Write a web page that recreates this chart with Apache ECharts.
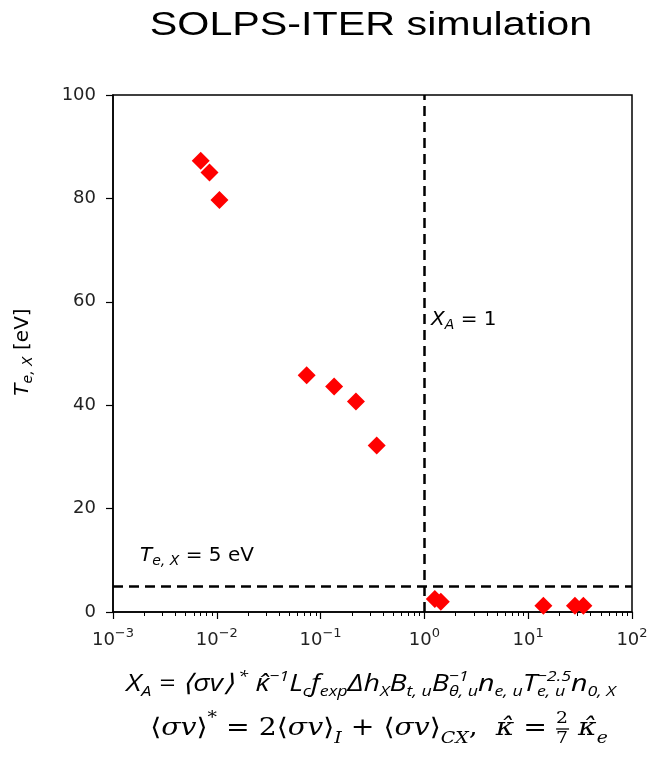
<!DOCTYPE html>
<html>
<head>
<meta charset="utf-8">
<script src="https://cdn.jsdelivr.net/npm/echarts@6/dist/echarts.min.js"></script>
<style>
  html, body { margin: 0; padding: 0; background: #fff; }
  #chart { width: 652px; height: 761px; }
</style>
</head>
<body>
<div id="chart"></div>
<script>
// X_A values and electron temperature at the X-point (eV)
const xA = [0.0070, 0.0085, 0.0106, 0.0734, 0.135, 0.219, 0.347, 1.26, 1.44, 14.0, 28.2, 34.0];
const teX = [87.3, 85.0, 79.7, 45.8, 43.6, 40.7, 32.2, 2.5, 2.0, 1.2, 1.2, 1.2];

// reference lines
const teLimit = 5;
const xaLimit = 1;

// axis ticks
const xDecades = [-3, -2, -1, 0, 1, 2];
const minorSteps = [2, 3, 4, 5, 6, 7, 8, 9];

const sans = 'DejaVu Sans';
const serif = 'DejaVu Serif';

let minorTicks = [];
xDecades.slice(0, -1).forEach(d => {
  minorSteps.forEach(k => minorTicks.push(d + Math.log10(k)));
});

const chart = echarts.init(document.getElementById('chart'));

const box = { left: 113, right: 20, top: 95, bottom: 149 };

const mathSans = {
  i: { fontFamily: sans, fontStyle: 'italic', fontSize: 20, lineHeight: 24, color: '#111', align: 'left' },
  n: { fontFamily: sans, fontSize: 20, lineHeight: 24, color: '#111', align: 'left' },
  sub: { fontFamily: sans, fontStyle: 'italic', fontSize: 14, lineHeight: 14, verticalAlign: 'bottom', color: '#111', align: 'left' }
};

const formula1 = {
  i: { fontFamily: 'Open Sans', fontStyle: 'italic', fontSize: 24, lineHeight: 30, color: '#222', align: 'left' },
  sub: { fontFamily: 'Open Sans', fontStyle: 'italic', fontSize: 15, lineHeight: 15, verticalAlign: 'bottom', color: '#222', align: 'left' },
  sub0: { fontFamily: 'Open Sans', fontStyle: 'italic', fontSize: 15, lineHeight: 15, verticalAlign: 'bottom', color: '#222', align: 'left', width: 0.01 },
  sup: { fontFamily: 'Open Sans', fontStyle: 'italic', fontSize: 15, lineHeight: 15, verticalAlign: 'top', color: '#222', align: 'left' },
  sup0: { fontFamily: 'Open Sans', fontStyle: 'italic', fontSize: 15, lineHeight: 15, verticalAlign: 'top', color: '#222', align: 'left', width: 0.01 }
};

const formula2 = {
  a: { fontFamily: serif, fontSize: 24, lineHeight: 36, color: '#000', align: 'left' },
  i: { fontFamily: serif, fontStyle: 'italic', fontSize: 24, lineHeight: 36, color: '#000', align: 'left' },
  sub: { fontFamily: serif, fontStyle: 'italic', fontSize: 16, lineHeight: 16, verticalAlign: 'bottom', color: '#000', align: 'left' },
  sup: { fontFamily: serif, fontSize: 16, lineHeight: 16, verticalAlign: 'top', color: '#000', align: 'left' },
  fn: { fontFamily: serif, fontSize: 16, lineHeight: 16, verticalAlign: 'top', color: '#000', align: 'left', width: 0.01 },
  fd: { fontFamily: serif, fontSize: 16, lineHeight: 16, verticalAlign: 'bottom', color: '#000', align: 'left', width: 0.01 },
  bar: { width: 11, height: 1.3, lineHeight: 1.3, fontSize: 1, backgroundColor: '#000', align: 'left' }
};

let option = {
  animation: false,
  backgroundColor: '#fff',
  grid: [
    Object.assign({ show: true, borderColor: '#000', borderWidth: 1.5 }, box),
    Object.assign({ show: false }, box)
  ],
  xAxis: [
    {
      type: 'log',
      gridIndex: 0,
      logBase: 10,
      min: 0.001,
      max: 100,
      axisLine: { lineStyle: { color: '#000', width: 1.5 } },
      axisTick: { length: 7, lineStyle: { color: '#000', width: 1.2 } },
      splitLine: { show: false },
      axisLabel: {
        margin: 15,
        formatter: function(v) {
          const e = Math.round(Math.log10(v));
          return '{b|10}{s|' + (e < 0 ? '\u2212' + (-e) : e) + '}';
        },
        rich: {
          b: { fontFamily: sans, fontSize: 18, lineHeight: 26, color: '#222' },
          s: { fontFamily: sans, fontSize: 13, lineHeight: 13, verticalAlign: 'top', color: '#222' }
        }
      }
    },
    {
      // minor log ticks, drawn on an overlaid grid
      type: 'value',
      gridIndex: 1,
      min: -3,
      max: 2,
      position: 'bottom',
      axisLine: { show: false },
      axisLabel: { show: false },
      splitLine: { show: false },
      axisTick: {
        show: true,
        length: 4,
        customValues: minorTicks,
        lineStyle: { color: '#000', width: 1 }
      }
    }
  ],
  yAxis: [
    {
      type: 'value',
      gridIndex: 0,
      min: 0,
      max: 100,
      interval: 20,
      axisLine: { show: true, onZero: false, lineStyle: { color: '#000', width: 1.5 } },
      axisTick: { show: true, length: 7, lineStyle: { color: '#000', width: 1.2 } },
      splitLine: { show: false },
      axisLabel: { fontFamily: sans, fontSize: 18, color: '#222', margin: 17 }
    },
    {
      type: 'value',
      gridIndex: 1,
      min: 0,
      max: 1,
      show: false
    }
  ],
  series: [
    {
      type: 'scatter',
      xAxisIndex: 0,
      yAxisIndex: 0,
      data: xA.map((x, i) => [x, teX[i]]),
      symbol: 'diamond',
      symbolSize: 18,
      itemStyle: { color: '#ff0000', opacity: 1 },
      markLine: {
        silent: true,
        symbol: ['none', 'none'],
        label: { show: false },
        lineStyle: { color: '#000', width: 2.5, type: [10, 6] },
        data: [{ yAxis: teLimit }, { xAxis: xaLimit }]
      }
    }
  ],
  graphic: [
    {
      type: 'text',
      x: 371,
      y: 26,
      scaleX: 1.25,
      style: {
        text: 'SOLPS-ITER simulation',
        font: '33px "Liberation Sans"',
        fill: '#000',
        align: 'center',
        verticalAlign: 'middle'
      }
    },
    {
      type: 'text',
      x: 23,
      y: 352,
      rotation: Math.PI / 2,
      style: {
        text: '{i|T}{sub|e, X}{n| [eV]}',
        rich: mathSans,
        align: 'center',
        verticalAlign: 'middle'
      }
    },
    {
      type: 'text',
      x: 431,
      y: 320,
      style: {
        text: '{i|X}{sub|A}{n| = 1}',
        rich: mathSans,
        align: 'left',
        verticalAlign: 'middle'
      }
    },
    {
      type: 'text',
      x: 140,
      y: 556,
      style: {
        text: '{i|T}{sub|e, X}{n| = 5 eV}',
        rich: mathSans,
        align: 'left',
        verticalAlign: 'middle'
      }
    },
    {
      type: 'text',
      x: 371,
      y: 684,
      scaleX: 1.19,
      style: {
        text: '{i|X}{sub|A}{i| = \u27e8σv\u27e9}{sup| *}{i| κ\u0302}{sup|\u22121}{i|L}{sub|c}{i|f}{sub|exp}{i|Δh}{sub|X}{i|B}{sub|t, u}{i|B}{sup0|\u22121}{sub|θ, u}{i|n}{sub|e, u}{i|T}{sub0|e, u}{sup|\u22122.5}{i|n}{sub|0, X}',
        rich: formula1,
        align: 'center',
        verticalAlign: 'middle'
      }
    },
    {
      type: 'text',
      x: 379,
      y: 729,
      scaleX: 1.18,
      style: {
        text: '{a|\u27e8}{i|σv}{a|\u27e9}{sup|*}{a| = 2\u27e8}{i|σv}{a|\u27e9}{sub|I}{a| + \u27e8}{i|σv}{a|\u27e9}{sub|CX}{a|,  }{i|κ\u0302}{a| = }{fn|2}{fd|7}{bar| }{a| }{i|κ\u0302}{sub|e}',
        rich: formula2,
        align: 'center',
        verticalAlign: 'middle'
      }
    }
  ]
};

chart.setOption(option);
</script>
</body>
</html>
